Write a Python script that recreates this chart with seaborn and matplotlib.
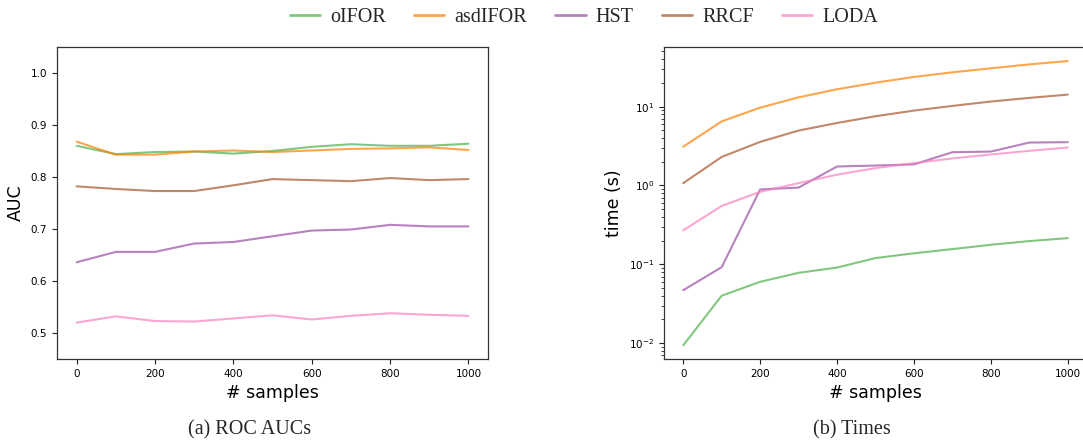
import numpy as np
import pandas as pd
import matplotlib
matplotlib.use("Agg")
import matplotlib.pyplot as plt
import seaborn as sns
from matplotlib.lines import Line2D

samples = [0, 100, 200, 300, 400, 500, 600, 700, 800, 900, 1000]
methods = ["oIFOR", "asdIFOR", "HST", "RRCF", "LODA"]

auc_oifor = [0.860, 0.844, 0.848, 0.849, 0.845, 0.850, 0.858, 0.863, 0.860, 0.860, 0.864]
auc_asdifor = [0.868, 0.843, 0.843, 0.849, 0.851, 0.848, 0.851, 0.854, 0.855, 0.857, 0.852]
auc_hst = [0.636, 0.656, 0.656, 0.672, 0.675, 0.686, 0.697, 0.699, 0.708, 0.705, 0.705]
auc_rrcf = [0.782, 0.777, 0.773, 0.773, 0.784, 0.796, 0.794, 0.792, 0.798, 0.794, 0.796]
auc_loda = [0.520, 0.532, 0.523, 0.522, 0.528, 0.534, 0.526, 0.533, 0.538, 0.535, 0.533]

time_oifor = [0.0094, 0.040, 0.060, 0.078, 0.091, 0.120, 0.138, 0.156, 0.177, 0.197, 0.215]
time_asdifor = [3.1, 6.5, 9.7, 13.1, 16.6, 20.1, 23.8, 27.2, 30.6, 34.3, 37.8]
time_hst = [0.047, 0.092, 0.89, 0.94, 1.74, 1.79, 1.85, 2.64, 2.69, 3.5, 3.54]
time_rrcf = [1.07, 2.3, 3.57, 4.97, 6.2, 7.55, 8.9, 10.2, 11.6, 12.9, 14.2]
time_loda = [0.27, 0.55, 0.83, 1.07, 1.37, 1.66, 1.92, 2.2, 2.47, 2.75, 3.03]

auc_values = [auc_oifor, auc_asdifor, auc_hst, auc_rrcf, auc_loda]
time_values = [time_oifor, time_asdifor, time_hst, time_rrcf, time_loda]

s1 = sns.color_palette("Set1")
palette = {"oIFOR": s1[2], "asdIFOR": s1[4], "HST": s1[3], "RRCF": s1[6], "LODA": s1[7]}

rows = []
for m, a, t in zip(methods, auc_values, time_values):
    for s, av, tv in zip(samples, a, t):
        rows.append({"method": m, "samples": s, "AUC": av, "time": tv})
df = pd.DataFrame(rows)

sns.set_style("ticks")
plt.rcParams["font.family"] = ["DejaVu Sans"]
plt.rcParams["xtick.color"] = "black"
plt.rcParams["ytick.color"] = "black"
plt.rcParams["axes.labelcolor"] = "black"

fig = plt.figure(figsize=(10.83, 4.47), dpi=100)
ax1 = fig.add_axes([57 / 1083, 88 / 447, 431 / 1083, 312 / 447])
ax2 = fig.add_axes([664 / 1083, 88 / 447, 423 / 1083, 312 / 447])

sns.lineplot(data=df, x="samples", y="AUC", hue="method", hue_order=methods,
             palette=palette, ax=ax1, linewidth=1.5, alpha=0.7, legend=False)
sns.lineplot(data=df, x="samples", y="time", hue="method", hue_order=methods,
             palette=palette, ax=ax2, linewidth=1.5, alpha=0.7, legend=False)

ax1.set_ylim(0.45, 1.05)
ax1.set_yticks([0.5, 0.6, 0.7, 0.8, 0.9, 1.0])
ax1.set_xlim(-50, 1050)
ax1.set_xticks([0, 200, 400, 600, 800, 1000])
ax1.set_ylabel("AUC", fontsize=12.5)
ax1.set_xlabel("# samples", fontsize=12.5)

ax2.set_yscale("log")
ax2.set_ylim(0.0063, 57)
ax2.set_xlim(-50, 1050)
ax2.set_xticks([0, 200, 400, 600, 800, 1000])
ax2.set_ylabel("time (s)", fontsize=12.5)
ax2.set_xlabel("# samples", fontsize=12.5)

for ax in (ax1, ax2):
    ax.tick_params(labelsize=7.5, length=3.5, width=0.8, color="#222222", labelcolor="black")
    ax.tick_params(which="minor", length=2, width=0.6, color="#222222")
    for sp in ax.spines.values():
        sp.set_color("#333333")
        sp.set_linewidth(0.9)

handles = [Line2D([], [], color=palette[m], lw=2, alpha=0.7) for m in methods]
fig.legend(handles, methods, loc="center", bbox_to_anchor=(584 / 1083, 1 - 17 / 447),
           ncol=5, frameon=False, prop={"family": "Liberation Serif", "size": 14.5},
           handlelength=1.5, handletextpad=0.5, columnspacing=1.4)

fig.text(250 / 1083, 1 - 430 / 447, "(a) ROC AUCs", ha="center", va="center",
         family="Liberation Serif", fontsize=14.5)
fig.text(852 / 1083, 1 - 430 / 447, "(b) Times", ha="center", va="center",
         family="Liberation Serif", fontsize=14.5)

fig.savefig("out.png", dpi=100)
